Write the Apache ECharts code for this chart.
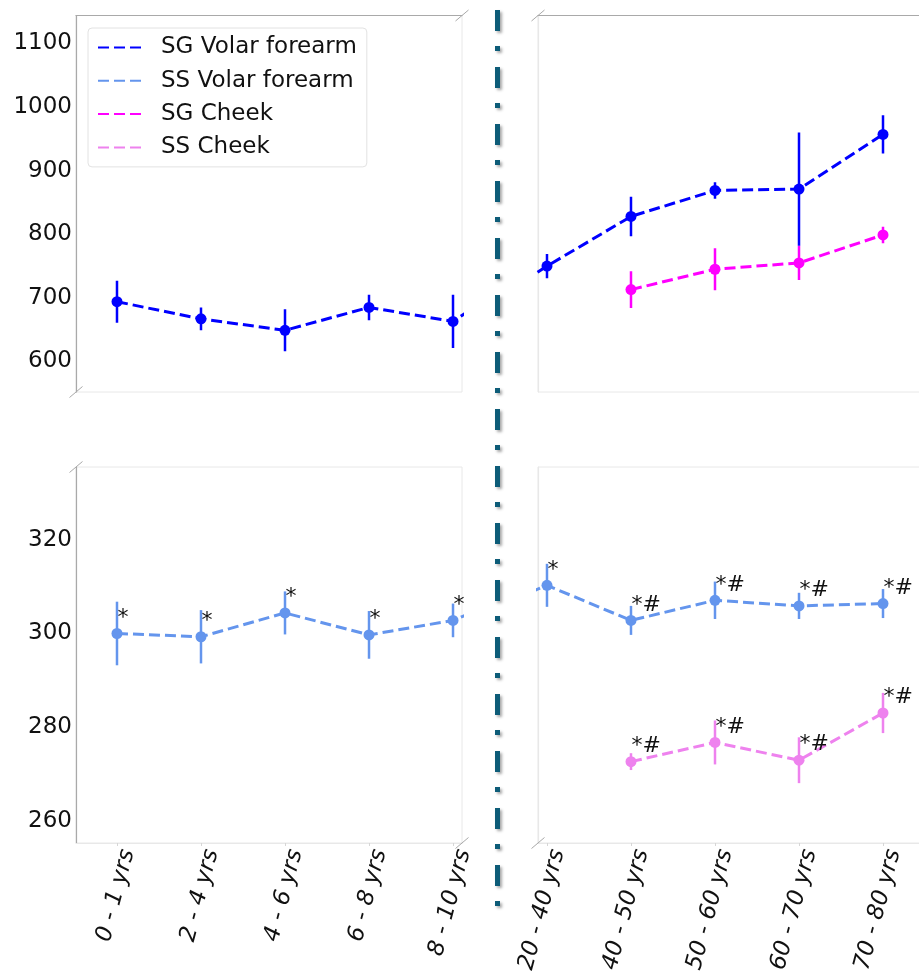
<!DOCTYPE html>
<html><head><meta charset="utf-8">
<script src="https://cdn.jsdelivr.net/npm/echarts@6/dist/echarts.min.js"></script>
<style>html,body{margin:0;padding:0;background:#fff}#c{width:919px;height:978px}</style>
</head><body><div id="c"></div>
<script>
// ---- data ----
const categories = ['0 - 1 yrs','2 - 4 yrs','4 - 6 yrs','6 - 8 yrs','8 - 10 yrs','20 - 40 yrs','40 - 50 yrs','50 - 60 yrs','60 - 70 yrs','70 - 80 yrs'];
const seriesNames = ['SG Volar forearm','SS Volar forearm','SG Cheek','SS Cheek'];
const sgVolar    = [694, 667, 649, 685, 663, 750, 828, 869, 871, 957];
const sgVolarErr = [33, 18, 33, 20, 42, 19, 31, 13, 89, 30];
const ssVolar    = [300.0, 299.3, 304.4, 299.7, 302.8, 310.3, 302.8, 307.1, 305.9, 306.4];
const ssVolarErr = [6.8, 5.7, 4.6, 5.1, 3.6, 4.6, 3.1, 4.0, 2.8, 3.1];
const sgCheek    = [null, null, null, null, null, null, 713, 745, 755, 799];
const sgCheekErr = [null, null, null, null, null, null, 29, 33, 27, 13];
const ssCheek    = [null, null, null, null, null, null, 272.6, 276.7, 272.9, 283.0];
const ssCheekErr = [null, null, null, null, null, null, 1.8, 4.7, 4.9, 4.3];
const ssVolarMarks = ['*','*','*','*','*','*','*#','*#','*#','*#'];
const ssCheekMarks = ['','','','','','','*#','*#','*#','*#'];
const topTicks = [600, 700, 800, 900, 1000, 1100];
const bottomTicks = [260, 280, 300, 320];
const leftTicks = [0, 1, 2, 3, 4];
const rightTicks = [5, 6, 7, 8, 9];

// ---- layout / style ----
const FONT = 'DejaVu Sans';
const G = {lx: 76, rx: 538, w: 386, ty: 15.5, th: 376.5, by: 467, bh: 376};
const xLeftRange = [-0.488, 4.107], xRightRange = [4.893, 9.488];
const yTopRange = [552, 1144], yBotRange = [255.2, 335.6];
const spineDark = '#a9a9a9', spineLight = '#e8e8e8';
const colors = {'SG Volar forearm':'#0000ff','SS Volar forearm':'#6495ed','SG Cheek':'#ff00ff','SS Cheek':'#ee82ee'};

const grids = [
  {left: G.lx, top: G.ty, width: G.w, height: G.th},
  {left: G.rx, top: G.ty, width: G.w, height: G.th},
  {left: G.lx, top: G.by, width: G.w, height: G.bh},
  {left: G.rx, top: G.by, width: G.w, height: G.bh}
].map(g => Object.assign(g, {show: true, borderColor: spineLight, borderWidth: 1, backgroundColor: 'transparent',
  containLabel: false, outerBoundsMode: 'none'}));

function xAx(gi, range, top, ticks) {
  return {
    type: 'value', gridIndex: gi, min: range[0], max: range[1],
    position: top ? 'top' : 'bottom',
    axisLine: {show: true, onZero: false, lineStyle: {color: top ? spineDark : spineLight, width: 1.2}},
    splitLine: {show: false},
    axisTick: top ? {show: false} : {show: true, length: 3, inside: false, customValues: ticks, lineStyle: {color: '#d6d6d6'}},
    axisLabel: top ? {show: false} : {
      show: true, customValues: ticks, rotate: 75, align: 'right', verticalAlign: 'top', margin: 4,
      fontFamily: FONT, fontStyle: 'italic', fontSize: 23, color: '#111',
      formatter: v => categories[Math.round(v)]
    }
  };
}
function yAx(gi, range, labels, ticks) {
  return {
    type: 'value', gridIndex: gi, min: range[0], max: range[1],
    axisLine: {show: true, onZero: false, lineStyle: {color: labels ? spineDark : spineLight, width: 1.2}},
    splitLine: {show: false},
    axisTick: {show: false},
    axisLabel: labels ? {show: true, customValues: ticks, margin: 4, fontFamily: FONT, fontSize: 23, color: '#111',
      formatter: v => String(Math.round(v))} : {show: false}
  };
}

function lineSeries(name, vals, marks, axisIdx) {
  const data = [];
  vals.forEach((v, i) => { if (v != null) data.push([i, v]); });
  const s = {
    type: 'line', name: name, xAxisIndex: axisIdx, yAxisIndex: axisIdx, data: data,
    symbol: 'circle', symbolSize: 11, clip: true, z: 3,
    itemStyle: {color: colors[name]},
    lineStyle: {color: colors[name], width: 3, type: [11, 5]},
    emphasis: {disabled: true}
  };
  if (marks) {
    s.label = {show: true, position: [6, -10], align: 'left', verticalAlign: 'middle',
      fontFamily: FONT, fontSize: 22, color: '#111', formatter: p => marks[p.value[0]]};
  }
  return s;
}
function errSeries(name, vals, errs, axisIdx) {
  const data = [];
  vals.forEach((v, i) => { if (v != null) data.push([i, v - errs[i], v + errs[i]]); });
  const c = colors[name];
  return {
    type: 'custom', name: name + ' err', xAxisIndex: axisIdx, yAxisIndex: axisIdx, data: data, clip: true, z: 2,
    encode: {x: 0, y: [1, 2]},
    renderItem: (params, api) => {
      const a = api.coord([api.value(0), api.value(1)]);
      const b = api.coord([api.value(0), api.value(2)]);
      return {type: 'line', shape: {x1: a[0], y1: a[1], x2: b[0], y2: b[1]}, style: {stroke: c, lineWidth: 2.5}};
    }
  };
}

const series = [];
[0, 1].forEach(ai => {
  series.push(lineSeries('SG Volar forearm', sgVolar, null, ai));
  series.push(lineSeries('SG Cheek', sgCheek, null, ai));
});
[2, 3].forEach(ai => {
  series.push(lineSeries('SS Volar forearm', ssVolar, ssVolarMarks, ai));
  series.push(lineSeries('SS Cheek', ssCheek, ssCheekMarks, ai));
});
[0, 1].forEach(ai => {
  series.push(errSeries('SG Cheek', sgCheek, sgCheekErr, ai));
  series.push(errSeries('SG Volar forearm', sgVolar, sgVolarErr, ai));
});
[2, 3].forEach(ai => {
  series.push(errSeries('SS Volar forearm', ssVolar, ssVolarErr, ai));
  series.push(errSeries('SS Cheek', ssCheek, ssCheekErr, ai));
});

// broken-axis diagonal marks at panel corners
const corners = [[G.lx, G.ty + G.th], [G.lx + G.w, G.ty], [G.rx, G.ty], [G.lx, G.by], [G.lx + G.w, G.by + G.bh], [G.rx, G.by + G.bh]];
const graphics = corners.map(c => ({
  type: 'line', silent: true, z: 10,
  shape: {x1: c[0] - 6.5, y1: c[1] + 5.5, x2: c[0] + 6.5, y2: c[1] - 5.5},
  style: {stroke: '#a9a9a9', lineWidth: 1}
}));
graphics.push({
  type: 'line', silent: true, z: 10,
  shape: {x1: 497.5, y1: 10, x2: 497.5, y2: 906},
  style: {stroke: '#0d5c78', lineWidth: 5, lineDash: [21, 15, 5, 16], lineCap: 'butt',
    shadowBlur: 3, shadowColor: 'rgba(0,0,0,0.35)', shadowOffsetX: 2, shadowOffsetY: 2}
});

const chart = echarts.init(document.getElementById('c'), null, {renderer: 'canvas'});
chart.setOption({
  animation: false,
  backgroundColor: '#fff',
  grid: grids,
  xAxis: [xAx(0, xLeftRange, true), xAx(1, xRightRange, true), xAx(2, xLeftRange, false, leftTicks), xAx(3, xRightRange, false, rightTicks)],
  yAxis: [yAx(0, yTopRange, true, topTicks), yAx(1, yTopRange, false), yAx(2, yBotRange, true, bottomTicks), yAx(3, yBotRange, false)],
  legend: {
    data: seriesNames, orient: 'vertical', left: 88, top: 28,
    padding: [8, 10, 8, 9], itemGap: 10.3, itemWidth: 45, itemHeight: 14,
    backgroundColor: 'rgba(255,255,255,0.85)', borderColor: '#e2e2e2', borderWidth: 1, borderRadius: 4,
    itemStyle: {opacity: 0},
    textStyle: {fontFamily: FONT, fontSize: 23, color: '#111', padding: [0, 0, 0, 13]},
    selectedMode: false
  },
  graphic: {elements: graphics},
  series: series
});
</script></body></html>
